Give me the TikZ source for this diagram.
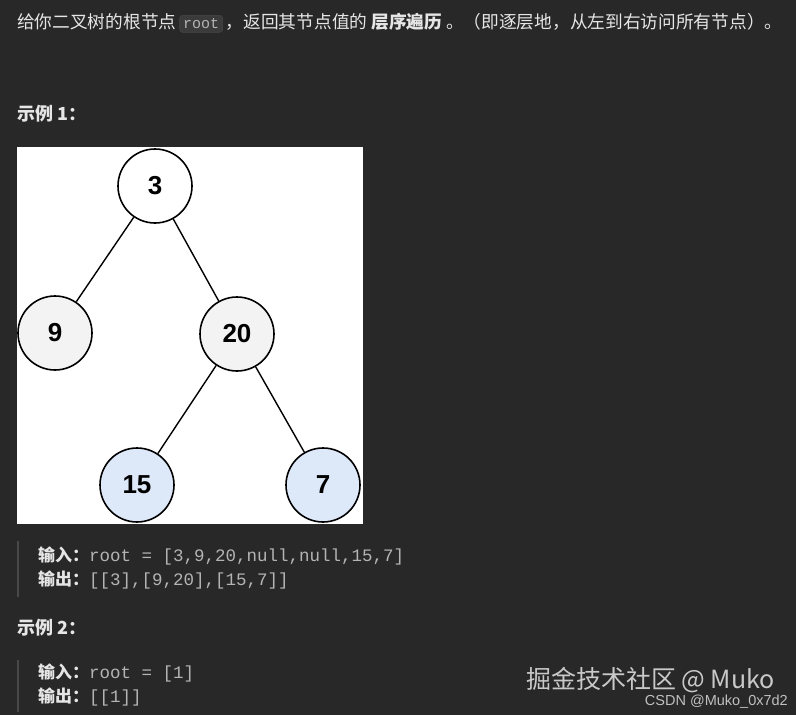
\documentclass[tikz,border=0pt]{standalone}
\usepackage{fontspec}
\setmainfont{Noto Sans CJK SC}
\setmonofont{Liberation Mono}
\newfontfamily\numf{Liberation Sans}
\definecolor{bg}{HTML}{282828}
\definecolor{fg}{HTML}{E6E6E6}
\definecolor{cg}{HTML}{B4B4B4}
\definecolor{bar}{HTML}{484848}
\definecolor{lgray}{HTML}{F3F3F3}
\definecolor{lblue}{HTML}{DDE8F8}
\tikzset{
 txt/.style={anchor=west,inner sep=0pt,text=fg,font=\fontsize{17}{20}\selectfont},
 tn/.style={circle,draw=black,line width=1.6pt,minimum size=74pt,inner sep=0pt,font=\numf\bfseries\fontsize{26}{30}\selectfont},
 edge/.style={line width=1.4pt,black}
}
\newcommand\codetxt[1]{{\color{cg}\ttfamily\fontsize{17.5}{20}\selectfont #1}}
\begin{document}
\begin{tikzpicture}[x=1pt,y=-1pt]
\fill[bg] (0,0) rectangle (796,715);
\useasboundingbox (0,0) rectangle (796,715);
\node[txt,font=\fontsize{17.7}{20}\selectfont] (l1) at (17,23) {给你二叉树的根节点\,\tikz[baseline=(r.base)]\node[draw=bar,fill=bar!60!bg,rounded corners=3pt,inner sep=3.5pt,text=cg,font=\ttfamily\fontsize{15}{17}\selectfont] (r) {root};\,，返回其节点值的 \textbf{层序遍历} 。（即逐层地，从左到右访问所有节点）。};
\node[txt,font=\bfseries\fontsize{18}{20}\selectfont] (e1) at (17,114) {示例 1：};
\fill[white] (17,147) rectangle (363,524);
\node[tn,fill=white] (n3) at (155,186) {3};
\node[tn,fill=lgray] (n9) at (55,333) {9};
\node[tn,fill=lgray] (n20) at (237,334) {20};
\node[tn,fill=lblue] (n15) at (137,485) {15};
\node[tn,fill=lblue] (n7) at (323,485) {7};
\draw[edge] (n3) -- (n9);
\draw[edge] (n3) -- (n20);
\draw[edge] (n20) -- (n15);
\draw[edge] (n20) -- (n7);
\fill[bar] (17,541) rectangle (19,597);
\node[txt] (i1) at (38,556) {\textbf{输入：}\codetxt{root = [3,9,20,null,null,15,7]}};
\node[txt] (o1) at (38,580) {\textbf{输出：}\codetxt{[[3],[9,20],[15,7]]}};
\node[txt,font=\bfseries\fontsize{18}{20}\selectfont] (e2) at (17,628) {示例 2：};
\fill[bar] (17,660) rectangle (19,712);
\node[txt] (i2) at (38,673) {\textbf{输入：}\codetxt{root = [1]}};
\node[txt] (o2) at (38,697) {\textbf{输出：}\codetxt{[[1]]}};
\node[anchor=east,inner sep=0pt,text=fg!85!bg,font=\fontsize{25}{28}\selectfont] (w1) at (775,680) {掘金技术社区 @ Muko};
\node[anchor=east,inner sep=0pt,text=fg!80!bg,font=\numf\fontsize{14.5}{16}\selectfont] (w2) at (788,702) {CSDN @Muko\_0x7d2};
\end{tikzpicture}
\end{document}
